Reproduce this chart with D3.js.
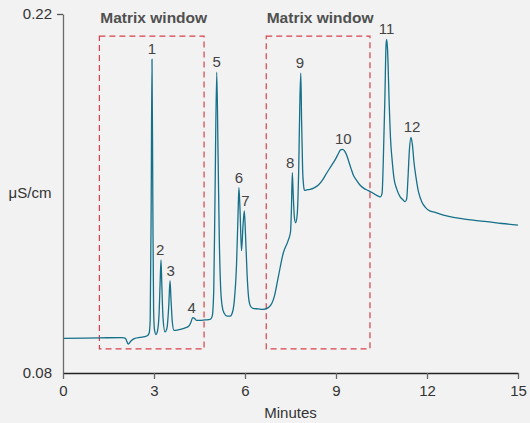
<!DOCTYPE html>
<html>
<head>
<meta charset="utf-8">
<script src="https://cdn.jsdelivr.net/npm/d3@7"></script>
<style>
  html, body { margin: 0; padding: 0; background: #f2f2f2; }
  text { font-family: Arial, "Liberation Sans", Helvetica, sans-serif; }
</style>
</head>
<body>
<div id="chart"></div>
<script>
// Chromatogram trace (minutes, µS/cm)
const minutes = [
  0, 1.22, 1.95, 2.06, 2.15, 2.24, 2.37, 2.54, 2.70, 2.79, 2.84, 2.875, 2.908, 2.934, 2.961, 2.987,
  3.017, 3.066, 3.116, 3.165, 3.205, 3.231, 3.258, 3.297, 3.363, 3.429, 3.488, 3.528, 3.561, 3.604,
  3.66, 3.79, 3.99, 4.15, 4.22, 4.276, 4.336, 4.408, 4.517, 4.68, 4.85, 4.92, 4.97, 5.01, 5.068,
  5.11, 5.153, 5.193, 5.242, 5.308, 5.41, 5.51, 5.59, 5.65, 5.72, 5.77, 5.80, 5.836, 5.885, 5.935,
  5.978, 6.017, 6.07, 6.12, 6.18, 6.26, 6.43, 6.59, 6.77, 6.89, 6.97, 7.10, 7.26, 7.43, 7.50, 7.53,
  7.56, 7.59, 7.63, 7.67, 7.72, 7.77, 7.81, 7.84, 7.865, 7.90, 7.93, 7.96, 8.04, 8.14, 8.28, 8.42,
  8.56, 8.69, 8.84, 8.97, 9.08, 9.15, 9.21, 9.28, 9.35, 9.41, 9.50, 9.57, 9.68, 9.79, 9.92, 10.07,
  10.19, 10.29, 10.39, 10.47, 10.52, 10.56, 10.61, 10.65, 10.67, 10.70, 10.75, 10.80, 10.85, 10.91,
  11.0, 11.11, 11.21, 11.28, 11.33, 11.37, 11.42, 11.47, 11.52, 11.57, 11.64, 11.72, 11.83, 11.94,
  12.04, 12.27, 12.54, 12.83, 13.09, 13.52, 13.97, 14.47, 15.0
];
const conductivity = [
  0.0935, 0.0937, 0.0938, 0.0935, 0.0913, 0.0925, 0.0935, 0.0939, 0.0942, 0.0946, 0.0956, 0.1007, 0.1475, 0.2024, 0.1475, 0.1046,
  0.0968, 0.0950, 0.0964, 0.1026, 0.1163, 0.1241, 0.1143, 0.1015, 0.0960, 0.0976, 0.1065, 0.1160, 0.1085, 0.0999,
  0.0966, 0.0968, 0.0974, 0.0983, 0.0999, 0.1016, 0.1013, 0.1005, 0.1005, 0.1007, 0.1009, 0.1022, 0.1124, 0.1475, 0.1973,
  0.1670, 0.1319, 0.1143, 0.1065, 0.1034, 0.1022, 0.1022, 0.1038, 0.1085, 0.1221, 0.1416, 0.1523, 0.1436, 0.1277, 0.1377,
  0.1432, 0.1338, 0.1182, 0.1093, 0.1061, 0.1052, 0.1050, 0.1048, 0.1055, 0.1073, 0.1100, 0.1176, 0.1267, 0.1319, 0.1350, 0.1436,
  0.1581, 0.1494, 0.1405, 0.1386, 0.1416, 0.1592, 0.1865, 0.1969, 0.1787, 0.1592, 0.1533, 0.1512, 0.1514, 0.1516, 0.1522, 0.1533,
  0.1553, 0.1579, 0.1607, 0.1631, 0.1656, 0.1670, 0.1672, 0.1666, 0.1650, 0.1629, 0.1596, 0.1572, 0.1551, 0.1533, 0.1520, 0.1511,
  0.1504, 0.1496, 0.1490, 0.1487, 0.1502, 0.1631, 0.1865, 0.2079, 0.2101, 0.2060, 0.1865, 0.1709, 0.1631, 0.1561,
  0.1518, 0.1488, 0.1475, 0.1468, 0.1479, 0.1553, 0.1670, 0.1719, 0.1689, 0.1623, 0.1561, 0.1506, 0.1467, 0.1447,
  0.1436, 0.1426, 0.1416, 0.1408, 0.1403, 0.1396, 0.1390, 0.1383, 0.1377
];

// Peak labels and apex positions
const peakNames = ['1', '2', '3', '4', '5', '6', '7', '8', '9', '10', '11', '12'];
const peakMinutes = [2.93, 3.20, 3.55, 4.24, 5.07, 5.80, 6.01, 7.49, 7.81, 9.24, 10.67, 11.51];
const peakHeights = [0.2024, 0.1241, 0.1160, 0.1016, 0.1973, 0.1523, 0.1432, 0.1581, 0.1969, 0.1672, 0.2101, 0.1719];

// Matrix windows [start, end] in minutes, spanning the same value range
const windowStarts = [1.2, 6.7];
const windowEnds = [4.65, 10.12];
const windowTop = 0.2114;
const windowBottom = 0.0894;
const windowTitle = 'Matrix window';

const xTicks = [0, 3, 6, 9, 12, 15];
const yTicks = [0.08, 0.22];

const width = 530;
const height = 423;
const margin = { top: 14, right: 12, bottom: 50, left: 63 };

const svg = d3
  .select('#chart')
  .append('svg')
  .attr('width', width)
  .attr('height', height)
  .style('background-color', '#f2f2f2');

const x = d3.scaleLinear().domain([0, 15]).range([margin.left, 518]);
const y = d3.scaleLinear().domain([0.08, 0.22]).range([373, margin.top]);

// matrix windows
windowStarts.forEach((s, i) => {
  svg
    .append('rect')
    .attr('x', x(s))
    .attr('y', y(windowTop))
    .attr('width', x(windowEnds[i]) - x(s))
    .attr('height', y(windowBottom) - y(windowTop))
    .attr('fill', 'none')
    .attr('stroke', '#d8414a')
    .attr('stroke-width', 1.2)
    .attr('stroke-dasharray', '6,4');

  svg
    .append('text')
    .attr('x', (x(s) + x(windowEnds[i])) / 2 + 2)
    .attr('y', 23)
    .attr('text-anchor', 'middle')
    .attr('font-size', 15.5)
    .attr('font-weight', 'bold')
    .attr('fill', '#505050')
    .text(windowTitle);
});

// trace
const line = d3
  .line()
  .x((d, i) => x(minutes[i]))
  .y((d) => y(d))
  .curve(d3.curveMonotoneX);

svg
  .append('path')
  .datum(conductivity)
  .attr('d', line)
  .attr('fill', 'none')
  .attr('stroke', '#15708a')
  .attr('stroke-width', 1.3)
  .attr('stroke-linejoin', 'round');

// peak numbers
svg
  .selectAll('.peak-label')
  .data(peakNames)
  .enter()
  .append('text')
  .attr('class', 'peak-label')
  .attr('x', (d, i) => x(peakMinutes[i]))
  .attr('y', (d, i) => y(peakHeights[i]) - 5)
  .attr('text-anchor', 'middle')
  .attr('font-size', 15)
  .attr('fill', '#444')
  .text((d) => d);

// axes
const xAxis = svg
  .append('g')
  .attr('transform', `translate(0, ${y(0.08)})`)
  .call(d3.axisBottom(x).tickValues(xTicks).tickSize(6).tickSizeOuter(0).tickPadding(6));

xAxis.select('.domain').attr('stroke', '#222').attr('stroke-width', 1.3);
xAxis.selectAll('.tick line').attr('stroke', '#666').attr('stroke-width', 1.3);
xAxis.selectAll('text').attr('font-size', 15).attr('fill', '#333').style('font-family', 'Arial, "Liberation Sans", sans-serif');

const yAxis = svg
  .append('g')
  .attr('transform', `translate(${margin.left}, 0)`)
  .call(d3.axisLeft(y).tickValues(yTicks).tickFormat(d3.format('.2f')).tickSize(6).tickSizeOuter(0).tickPadding(5));

yAxis.select('.domain').attr('stroke', '#6b6b6b').attr('stroke-width', 1.3);
yAxis.selectAll('.tick line').attr('stroke', '#555').attr('stroke-width', 1.3);
// the bottom value carries no tick mark in the reference
yAxis.selectAll('.tick').filter((d) => d === 0.08).select('line').remove();
yAxis.selectAll('text').attr('font-size', 15).attr('fill', '#333').style('font-family', 'Arial, "Liberation Sans", sans-serif');

// axis titles
svg
  .append('text')
  .attr('x', (x(0) + x(15)) / 2)
  .attr('y', 418)
  .attr('text-anchor', 'middle')
  .attr('font-size', 15)
  .attr('fill', '#333')
  .text('Minutes');

svg
  .append('text')
  .attr('x', 30)
  .attr('y', 198)
  .attr('text-anchor', 'middle')
  .attr('font-size', 15)
  .attr('fill', '#333')
  .text('μS/cm');
</script>
</body>
</html>
